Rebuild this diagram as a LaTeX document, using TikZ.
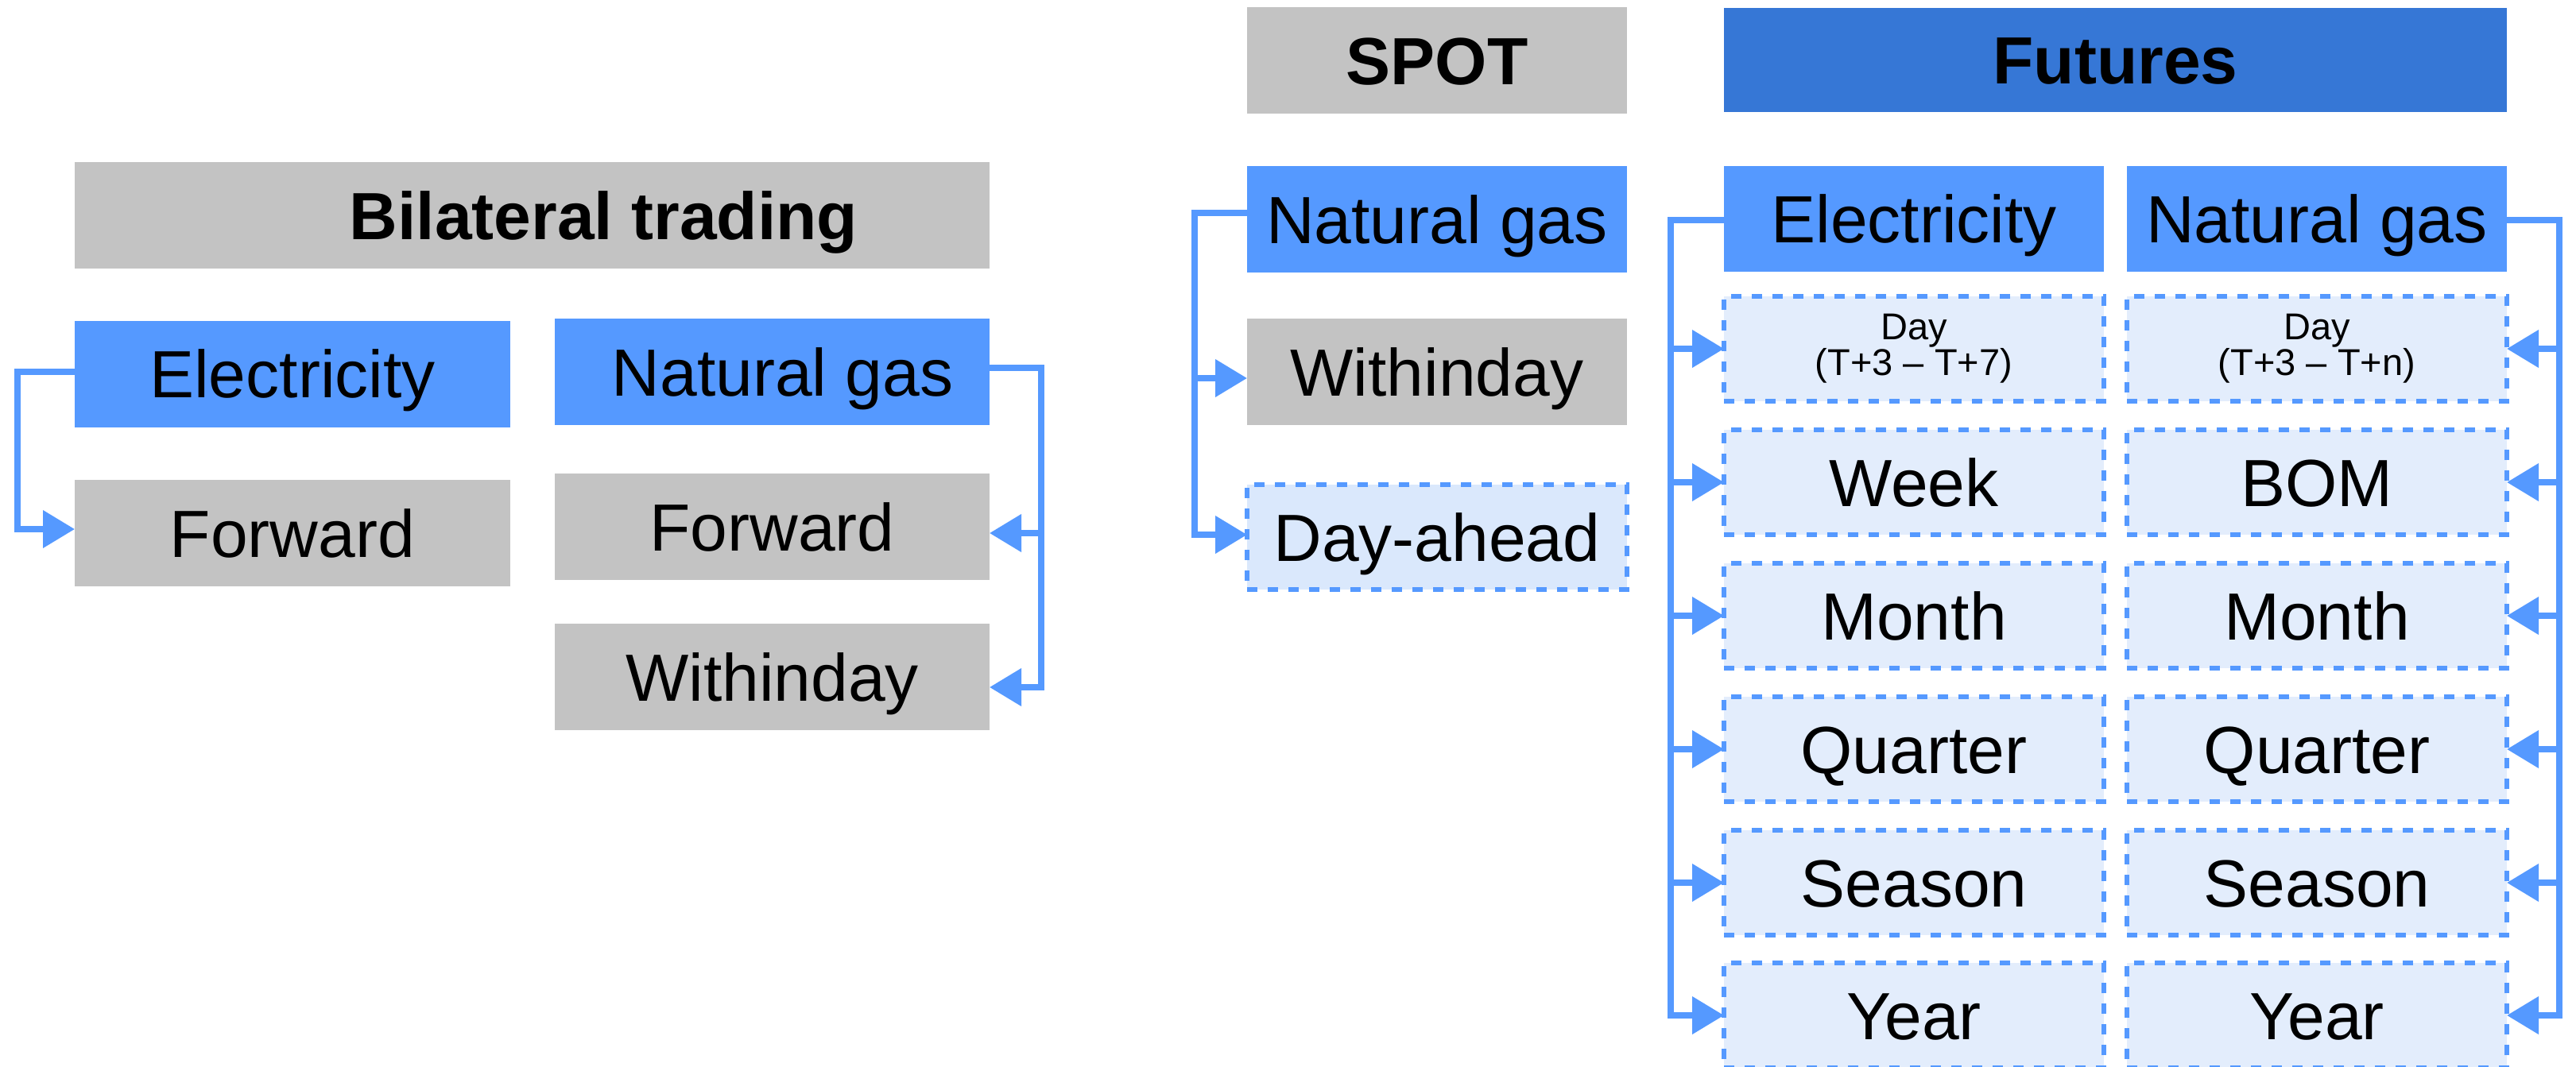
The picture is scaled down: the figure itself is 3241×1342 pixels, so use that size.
\documentclass[tikz,border=0pt]{standalone}
\usepackage{fontspec}
\setmainfont{Liberation Sans}
\usetikzlibrary{arrows.meta,calc}
\newcommand\bigsz{\fontsize{84pt}{100pt}\selectfont}
\newcommand\smallsz{\fontsize{47pt}{45pt}\selectfont}
\definecolor{boxgray}{HTML}{C3C3C3}
\definecolor{boxblue}{HTML}{5599FF}
\definecolor{darkblue}{HTML}{3677D6}
\definecolor{lightfill}{HTML}{E3EDFC}
\definecolor{lightfillb}{HTML}{DAE8FC}
\begin{document}
\begin{tikzpicture}[x=1pt,y=-1pt,
  base/.style={rectangle, inner sep=0pt, outer sep=0pt, minimum width=478pt, minimum height=134pt, font=\bigsz},
  oneline/.style={text height=60pt, text depth=0pt},
  graybox/.style={base, oneline, fill=boxgray},
  bluebox/.style={base, oneline, fill=boxblue},
  dashbox/.style={base, fill=lightfill, draw=boxblue, line width=6pt, dash pattern=on 13pt off 13pt, minimum height=132pt},
  title/.style={font=\bigsz\bfseries},
  daytext/.style={font=\smallsz, align=center},
  conn/.style={draw=boxblue, line width=7.5pt, -{Triangle[length=40pt,width=46pt]}}]
\useasboundingbox[fill=white] (0,0) rectangle (3241,1342);

% Bilateral trading
\node[graybox, title, minimum width=1151pt] (bil) at (669.5,271) {\hspace*{180pt}Bilateral trading};
\node[bluebox, minimum width=548pt] (elecB) at (368,470.5) {Electricity};
\node[bluebox, minimum width=547pt] (ngB) at (971.5,468) {\hspace*{26pt}Natural gas};
\node[graybox, minimum width=548pt] (fwdL) at (368,671) {Forward};
\node[graybox, minimum width=547pt] (fwdR) at (971.5,663) {Forward};
\node[graybox, minimum width=547pt] (wdB) at (971.5,852) {Withinday};

% SPOT
\node[graybox, title] (spot) at (1808,76) {SPOT};
\node[bluebox] (ngS) at (1808,276) {Natural gas};
\node[graybox] (wdS) at (1808,468) {Withinday};
\node[dashbox, oneline, fill=lightfillb] (da) at (1808,676) {Day-ahead};

% Futures
\node[base, oneline, title, fill=darkblue, minimum width=985pt, minimum height=131pt] (fut) at (2661.5,75.5) {Futures};
\node[bluebox, minimum height=133pt] (elecF) at (2408,275.5) {Electricity};
\node[bluebox, minimum height=133pt] (ngF) at (2915,275.5) {Natural gas};

\node[dashbox, daytext] (e1) at (2408,439) {Day\\(T+3 – T+7)};
\node[dashbox, oneline] (e2) at (2408,607) {Week};
\node[dashbox, oneline] (e3) at (2408,775) {Month};
\node[dashbox, oneline] (e4) at (2408,943) {Quarter};
\node[dashbox, oneline] (e5) at (2408,1111) {Season};
\node[dashbox, oneline] (e6) at (2408,1278) {Year};

\node[dashbox, daytext] (n1) at (2915,439) {Day\\(T+3 – T+n)};
\node[dashbox, oneline] (n2) at (2915,607) {BOM};
\node[dashbox, oneline] (n3) at (2915,775) {Month};
\node[dashbox, oneline] (n4) at (2915,943) {Quarter};
\node[dashbox, oneline] (n5) at (2915,1111) {Season};
\node[dashbox, oneline] (n6) at (2915,1278) {Year};

% connectors: bilateral
\draw[conn] ($(elecB.west)+(0,-2.5)$) -- ++(-72,0) |- ($(fwdL.west)+(0,-5)$);
\draw[conn] ($(ngB.east)+(0,-5)$) -- ++(65,0) coordinate (ngBt) |- ($(wdB.east)+(0,13)$);
\draw[conn] ($(fwdR.east -| ngBt)+(0,8)$) -- ($(fwdR.east)+(0,8)$);

% connectors: spot
\draw[conn] ($(ngS.west)+(0,-8)$) -- ++(-66,0) coordinate (spT) |- ($(da.west)+(0,-3)$);
\draw[conn] ($(wdS.west -| spT)+(0,8)$) -- ($(wdS.west)+(0,8)$);

% connectors: futures
\draw[conn] ($(elecF.west)+(0,1.5)$) -- ++(-67,0) coordinate (fL) |- (e6.west);
\draw[conn] ($(ngF.east)+(0,1.5)$) -- ++(66,0) coordinate (fR) |- (n6.east);
\foreach \i in {1,...,5}{
  \draw[conn] (e\i.west -| fL) -- (e\i.west);
  \draw[conn] (n\i.east -| fR) -- (n\i.east);
}
\end{tikzpicture}
\end{document}
